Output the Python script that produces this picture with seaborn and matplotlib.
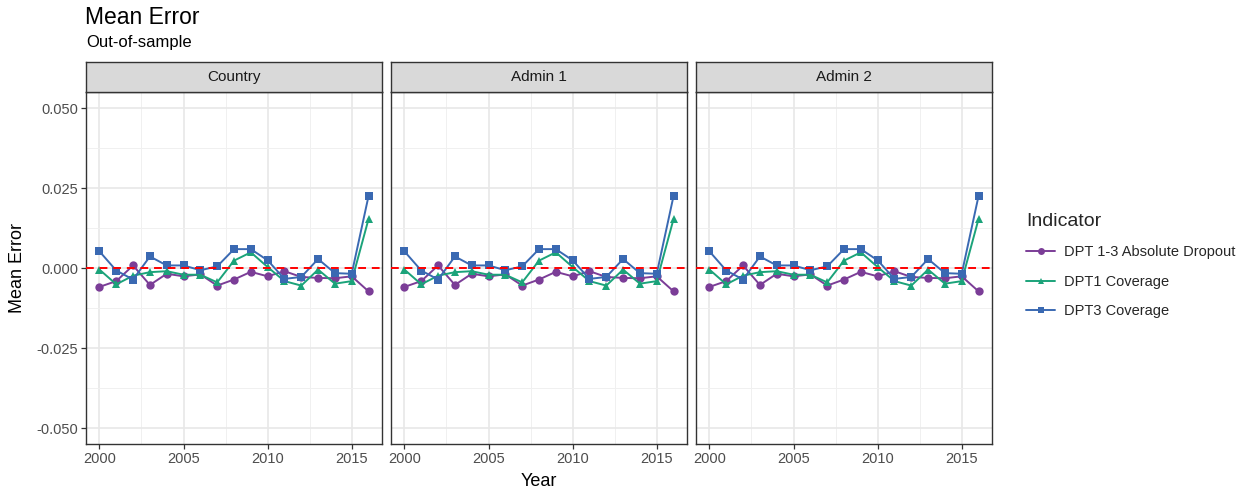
import numpy as np
import pandas as pd
import matplotlib
matplotlib.use("Agg")
import matplotlib.pyplot as plt
from matplotlib.ticker import FixedLocator
import seaborn as sns

# ---- data -------------------------------------------------------------
years = list(range(2000, 2017))
panels = ["Country", "Admin 1", "Admin 2"]
indicators = ["DPT 1-3 Absolute Dropout", "DPT1 Coverage", "DPT3 Coverage"]

dropout_err = [-0.0059, -0.0041, 0.0008, -0.0053, -0.0018, -0.0026, -0.0020,
               -0.0055, -0.0036, -0.0012, -0.0026, -0.0010, -0.0028, -0.0031,
               -0.0032, -0.0026, -0.0073]
dpt1_err = [-0.0005, -0.0051, -0.0024, -0.0013, -0.0010, -0.0021, -0.0021,
            -0.0045, 0.0023, 0.0049, 0.0003, -0.0041, -0.0055, -0.0005,
            -0.0049, -0.0041, 0.0153]
dpt3_err = [0.0052, -0.0008, -0.0036, 0.0036, 0.0008, 0.0008, -0.0007,
            0.0005, 0.0059, 0.0059, 0.0024, -0.0034, -0.0028, 0.0028,
            -0.0016, -0.0018, 0.0225]

series = {"DPT 1-3 Absolute Dropout": dropout_err,
          "DPT1 Coverage": dpt1_err,
          "DPT3 Coverage": dpt3_err}

y_ticks = [-0.050, -0.025, 0.000, 0.025, 0.050]
x_ticks = [2000, 2005, 2010, 2015]

rows = []
for p in panels:
    for ind in indicators:
        for yr, v in zip(years, series[ind]):
            rows.append({"panel": p, "Year": yr, "Indicator": ind, "Mean Error": v})
df = pd.DataFrame(rows)

# ---- style ------------------------------------------------------------
sns.set_theme(style="white")
plt.rcParams["font.family"] = ["Liberation Sans", "DejaVu Sans"]

palette = {"DPT 1-3 Absolute Dropout": "#7B3D97",
           "DPT1 Coverage": "#1BA37A",
           "DPT3 Coverage": "#3A69B2"}
markers = {"DPT 1-3 Absolute Dropout": "o",
           "DPT1 Coverage": "^",
           "DPT3 Coverage": "s"}

W, H = 1241, 495
fig = plt.figure(figsize=(W / 100, H / 100), dpi=100)

panel_lefts = [86, 391, 696]
panel_w = 296
panel_top, panel_bot = 92, 444
strip_top = 62
border_col = "#333333"
tick_col = "#4D4D4D"

axes = []
for i, (p, lx) in enumerate(zip(panels, panel_lefts)):
    ax = fig.add_axes([lx / W, (H - panel_bot) / H, panel_w / W,
                       (panel_bot - panel_top) / H])
    axes.append(ax)
    sub = df[df["panel"] == p]
    sns.lineplot(data=sub, x="Year", y="Mean Error", hue="Indicator",
                 style="Indicator", hue_order=indicators, style_order=indicators,
                 palette=palette, markers=markers, dashes=False,
                 markersize=6, markeredgewidth=0, linewidth=1.4,
                 legend=(i == 2), ax=ax, zorder=3)
    ax.axhline(0, color="#FF0000", linestyle=(0, (4, 3)), linewidth=1.4, zorder=4)

    ax.set_xlim(1999.2, 2016.8)
    ax.set_ylim(-0.055, 0.055)
    ax.xaxis.set_major_locator(FixedLocator(x_ticks))
    ax.xaxis.set_minor_locator(FixedLocator([2002.5, 2007.5, 2012.5]))
    ax.yaxis.set_major_locator(FixedLocator(y_ticks))
    ax.yaxis.set_minor_locator(FixedLocator([-0.0375, -0.0125, 0.0125, 0.0375]))
    ax.grid(True, which="major", color="#E8E8E8", linewidth=1.2, zorder=0)
    ax.grid(True, which="minor", color="#F0F0F0", linewidth=0.7, zorder=0)
    ax.set_axisbelow(True)
    for s in ax.spines.values():
        s.set_color(border_col)
        s.set_linewidth(1.0)
        s.set_visible(True)
    ax.tick_params(axis="x", which="major", length=3.5, width=0.9, color=border_col,
                   labelsize=10.5, labelcolor=tick_col, pad=2, bottom=True)
    ax.tick_params(which="minor", length=0)
    ax.set_xticklabels([str(t) for t in x_ticks])
    if i == 0:
        ax.tick_params(axis="y", which="major", length=3.5, width=0.9, color=border_col,
                       labelsize=10.5, labelcolor=tick_col, pad=2, left=True)
        ax.set_yticklabels([f"{t:.3f}" for t in y_ticks])
    else:
        ax.tick_params(axis="y", which="major", length=0, labelleft=False)
    ax.set_xlabel("")
    ax.set_ylabel("")

    # facet strip
    sax = fig.add_axes([lx / W, (H - panel_top) / H, panel_w / W,
                        (panel_top - strip_top) / H])
    sax.set_facecolor("#D9D9D9")
    sax.set_xticks([])
    sax.set_yticks([])
    for s in sax.spines.values():
        s.set_color(border_col)
        s.set_linewidth(1.0)
    sax.text(0.5, 0.5, p, ha="center", va="center", fontsize=11,
             color="#1A1A1A", transform=sax.transAxes)

# legend on the right
leg_ax = axes[2]
handles, labels = leg_ax.get_legend_handles_labels()
leg_ax.legend_.remove()
for h in handles:
    h.set_markersize(5)
fig.legend(handles, labels, title="Indicator", loc="upper left",
           bbox_to_anchor=(1013 / W, (H - 200) / H), frameon=False,
           fontsize=10.5, title_fontsize=14, handlelength=2.0,
           labelspacing=1.05, handletextpad=0.6, alignment="left")

# titles and axis labels
fig.text(85 / W, (H - 18) / H, "Mean Error", fontsize=16.5, ha="left", va="center",
         color="black")
fig.text(86 / W, (H - 43) / H, "Out-of-sample", fontsize=12, ha="left",
         va="center", color="black")
fig.text((86 + 992) / 2 / W, (H - 481) / H, "Year", fontsize=13, ha="center",
         va="center", color="black")
fig.text(18 / W, (H - 268) / H, "Mean Error", fontsize=13, ha="center",
         va="center", rotation=90, color="black")

fig.savefig("out.png", dpi=100, facecolor="white")
